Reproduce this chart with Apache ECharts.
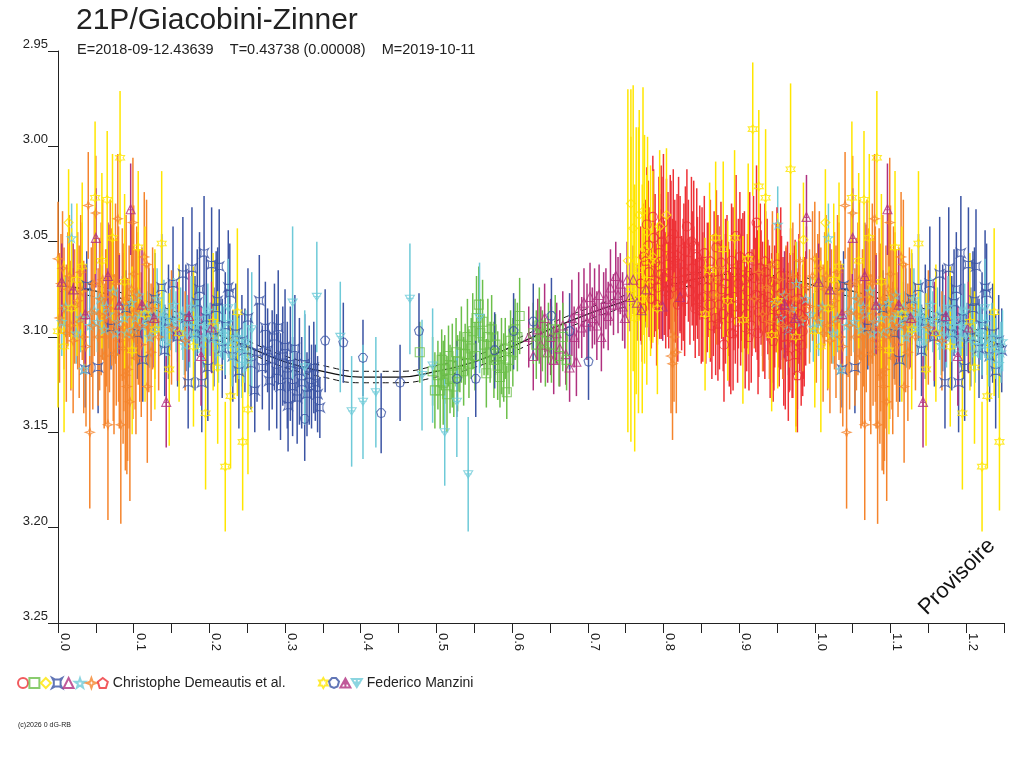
<!DOCTYPE html>
<html>
<head>
<meta charset="utf-8">
<title>21P/Giacobini-Zinner</title>
<script src="https://cdn.jsdelivr.net/npm/echarts@6/dist/echarts.min.js"></script>
<style>
  html, body { margin: 0; padding: 0; background: #fff; }
  #main { width: 1024px; height: 768px; }
</style>
</head>
<body>
<div id="main"></div>
<script>
// [phase, mag, error] -- phase 0..1, points below 0.25 are repeated at phase+1
var redCircles = [
  [0.770,3.072,0.030],[0.772,3.085,0.028],[0.774,3.058,0.028],[0.778,3.041,0.030],[0.780,3.052,0.034],
  [0.781,3.066,0.034],[0.783,3.072,0.030],[0.784,3.080,0.026],[0.786,3.037,0.032],[0.787,3.048,0.036],
  [0.789,3.061,0.036],[0.791,3.083,0.032],[0.792,3.074,0.030],[0.794,3.056,0.040],[0.795,3.063,0.038],
  [0.797,3.067,0.034],[0.798,3.050,0.034],[0.800,3.040,0.036],[0.801,3.069,0.030],[0.803,3.076,0.030],
  [0.804,3.053,0.036],[0.806,3.062,0.038],[0.807,3.078,0.028],[0.809,3.049,0.034],[0.810,3.058,0.040],
  [0.812,3.074,0.036],[0.813,3.046,0.034],[0.815,3.060,0.032],[0.816,3.071,0.032],[0.819,3.083,0.030],
  [0.820,3.050,0.034],[0.822,3.062,0.036],[0.824,3.077,0.030],[0.826,3.070,0.032],[0.827,3.066,0.036],
  [0.829,3.055,0.034],[0.831,3.042,0.030],[0.833,3.060,0.032],[0.835,3.076,0.028],[0.837,3.050,0.034],
  [0.838,3.064,0.030],[0.840,3.072,0.030],[0.842,3.085,0.026],[0.844,3.058,0.036],[0.845,3.069,0.032],
  [0.847,3.080,0.030],[0.848,3.061,0.030],[0.851,3.066,0.034],[0.852,3.079,0.034],[0.854,3.056,0.030],
  [0.856,3.088,0.026],[0.858,3.074,0.034],[0.860,3.070,0.030],[0.862,3.083,0.030],[0.864,3.094,0.028],
  [0.866,3.078,0.032],[0.867,3.066,0.032],[0.869,3.090,0.030],[0.870,3.053,0.030],[0.872,3.070,0.034],
  [0.874,3.083,0.034],[0.876,3.061,0.032],[0.877,3.075,0.026],[0.879,3.088,0.030],[0.880,3.104,0.030],
  [0.882,3.072,0.034],[0.884,3.068,0.032],[0.886,3.080,0.030],[0.887,3.090,0.036],[0.889,3.098,0.032],
  [0.890,3.060,0.030],[0.892,3.066,0.034],[0.893,3.079,0.028],[0.895,3.084,0.030],[0.896,3.047,0.032],
  [0.898,3.092,0.032],[0.899,3.072,0.034],[0.901,3.058,0.034],[0.902,3.085,0.030],[0.904,3.078,0.030],
  [0.905,3.063,0.028],[0.907,3.070,0.036],[0.908,3.095,0.032],[0.910,3.088,0.030],[0.911,3.076,0.030],
  [0.913,3.068,0.032],[0.914,3.058,0.034],[0.916,3.094,0.030],[0.917,3.082,0.028],[0.919,3.060,0.034],
  [0.920,3.069,0.030],[0.922,3.078,0.030],[0.923,3.040,0.030],[0.925,3.098,0.032],[0.926,3.087,0.034],
  [0.928,3.064,0.034],[0.929,3.074,0.030],[0.931,3.080,0.030],[0.932,3.090,0.028],[0.934,3.086,0.036],
  [0.935,3.066,0.032],[0.937,3.070,0.032],[0.938,3.079,0.030],[0.940,3.082,0.030],[0.941,3.096,0.036],
  [0.943,3.090,0.034],[0.944,3.071,0.030],[0.946,3.098,0.030],[0.947,3.084,0.032],[0.949,3.074,0.034],
  [0.950,3.062,0.030],[0.952,3.086,0.030],[0.953,3.092,0.034],[0.955,3.068,0.036],[0.956,3.077,0.030],
  [0.958,3.090,0.032],[0.959,3.100,0.036],[0.961,3.104,0.034],[0.962,3.083,0.030],[0.964,3.080,0.030],
  [0.965,3.110,0.034],[0.967,3.092,0.036],[0.968,3.073,0.030],[0.970,3.100,0.032],[0.971,3.094,0.038],
  [0.973,3.086,0.034],[0.974,3.081,0.032],[0.976,3.094,0.030],[0.977,3.102,0.036],[0.979,3.080,0.034],
  [0.980,3.088,0.030],[0.982,3.104,0.032],[0.984,3.097,0.034],[0.986,3.092,0.034],[0.988,3.085,0.030]
];
var greenSquares = [
  [0.478,3.108,0.016],[0.495,3.118,0.018],[0.498,3.128,0.020],[0.502,3.120,0.018],[0.505,3.128,0.020],
  [0.507,3.112,0.016],[0.509,3.124,0.022],[0.511,3.117,0.018],[0.514,3.130,0.020],[0.516,3.110,0.016],
  [0.518,3.122,0.018],[0.521,3.115,0.022],[0.523,3.126,0.016],[0.526,3.108,0.018],[0.528,3.119,0.020],
  [0.531,3.113,0.016],[0.533,3.104,0.020],[0.536,3.118,0.018],[0.538,3.109,0.016],[0.541,3.100,0.020],
  [0.543,3.114,0.018],[0.546,3.106,0.016],[0.548,3.097,0.020],[0.551,3.110,0.018],[0.553,3.090,0.022],
  [0.556,3.083,0.020],[0.558,3.098,0.018],[0.561,3.092,0.022],[0.563,3.104,0.016],[0.566,3.119,0.018],
  [0.568,3.100,0.020],[0.571,3.108,0.016],[0.573,3.096,0.018],[0.576,3.112,0.020],[0.578,3.104,0.016],
  [0.581,3.115,0.018],[0.584,3.121,0.016],[0.586,3.110,0.020],[0.589,3.116,0.018],[0.591,3.106,0.016],
  [0.593,3.129,0.014],[0.596,3.112,0.018],[0.598,3.102,0.016],[0.601,3.108,0.018],[0.604,3.096,0.016],
  [0.607,3.100,0.018],[0.610,3.089,0.020],[0.628,3.098,0.016],[0.632,3.104,0.018],[0.636,3.094,0.020],
  [0.640,3.102,0.016],[0.644,3.108,0.018],[0.648,3.098,0.016],[0.652,3.104,0.020],[0.657,3.096,0.018],
  [0.662,3.110,0.016],[0.667,3.100,0.018],[0.672,3.112,0.016]
];
var yellowDiamonds = [
  [0.014,3.040,0.028],[0.753,3.060,0.090],[0.757,3.030,0.060],[0.760,3.043,0.075],[0.764,3.060,0.070],
  [0.768,3.036,0.055],[0.773,3.034,0.065],[0.775,3.054,0.060],[0.779,3.045,0.050],[0.786,3.058,0.045],
  [0.795,3.042,0.040],[0.804,3.036,0.035],[0.985,3.049,0.030]
];
var blueCrosses = [
  [0.036,3.117,0.020],[0.038,3.073,0.018],[0.053,3.116,0.024],[0.070,3.095,0.022],[0.090,3.085,0.020],
  [0.105,3.098,0.024],[0.112,3.112,0.022],[0.120,3.090,0.026],[0.128,3.080,0.024],[0.137,3.074,0.028],
  [0.141,3.107,0.024],[0.146,3.092,0.030],[0.152,3.072,0.030],[0.158,3.100,0.026],[0.165,3.067,0.030],
  [0.169,3.090,0.028],[0.172,3.124,0.024],[0.177,3.064,0.032],[0.181,3.098,0.030],[0.184,3.082,0.028],
  [0.187,3.075,0.030],[0.190,3.124,0.026],[0.193,3.056,0.030],[0.196,3.090,0.032],[0.198,3.116,0.028],
  [0.203,3.062,0.030],[0.206,3.100,0.026],[0.209,3.085,0.030],[0.211,3.081,0.028],[0.213,3.063,0.030],
  [0.217,3.106,0.026],[0.221,3.094,0.028],[0.225,3.074,0.030],[0.227,3.077,0.026],[0.231,3.110,0.024],
  [0.235,3.098,0.026],[0.239,3.118,0.030],[0.243,3.102,0.024],[0.247,3.107,0.022],[0.251,3.090,0.026],
  [0.255,3.114,0.024],[0.260,3.128,0.022],[0.263,3.108,0.026],[0.266,3.081,0.024],[0.270,3.116,0.022],
  [0.274,3.095,0.024],[0.277,3.107,0.022],[0.279,3.123,0.026],[0.283,3.112,0.026],[0.286,3.100,0.028],
  [0.289,3.118,0.030],[0.291,3.095,0.030],[0.294,3.126,0.028],[0.297,3.110,0.026],[0.300,3.105,0.030],
  [0.303,3.120,0.028],[0.304,3.136,0.024],[0.307,3.114,0.030],[0.310,3.126,0.026],[0.313,3.106,0.028],
  [0.316,3.132,0.024],[0.319,3.118,0.028],[0.322,3.124,0.024],[0.326,3.114,0.026],[0.329,3.130,0.022],
  [0.332,3.120,0.026],[0.335,3.126,0.022],[0.338,3.116,0.024],[0.340,3.124,0.020],[0.343,3.130,0.020],
  [0.346,3.137,0.016]
];
var purpleTriangles = [
  [0.622,3.100,0.016],[0.628,3.110,0.018],[0.634,3.096,0.016],[0.638,3.104,0.020],[0.643,3.090,0.018],
  [0.647,3.108,0.016],[0.651,3.100,0.020],[0.655,3.112,0.018],[0.659,3.098,0.016],[0.663,3.106,0.020],
  [0.667,3.094,0.018],[0.671,3.109,0.016],[0.676,3.116,0.018],[0.679,3.090,0.020],[0.682,3.100,0.016],
  [0.685,3.113,0.018],[0.688,3.086,0.020],[0.692,3.095,0.016],[0.695,3.082,0.018],[0.699,3.092,0.020],
  [0.703,3.079,0.018],[0.706,3.090,0.016],[0.709,3.084,0.020],[0.712,3.094,0.018],[0.715,3.078,0.016],
  [0.718,3.100,0.018],[0.721,3.086,0.020],[0.724,3.080,0.016],[0.727,3.089,0.018],[0.730,3.074,0.020],
  [0.734,3.083,0.016],[0.737,3.068,0.018],[0.740,3.078,0.020],[0.743,3.072,0.016],[0.746,3.084,0.018],
  [0.749,3.090,0.016],[0.752,3.070,0.020],[0.756,3.079,0.018],[0.760,3.070,0.018],[0.765,3.082,0.020],
  [0.771,3.086,0.018],[0.777,3.075,0.020],[0.799,3.084,0.018],[0.822,3.079,0.018]
];
var cyanStars = [
  [0.005,3.092,0.018],[0.010,3.084,0.016],[0.018,3.048,0.018],[0.024,3.098,0.016],[0.030,3.090,0.018],
  [0.034,3.117,0.016],[0.042,3.094,0.020],[0.048,3.086,0.016],[0.052,3.092,0.016],[0.055,3.080,0.018],
  [0.061,3.096,0.016],[0.064,3.084,0.014],[0.067,3.088,0.018],[0.073,3.076,0.016],[0.076,3.098,0.016],
  [0.079,3.092,0.018],[0.085,3.084,0.016],[0.088,3.090,0.014],[0.091,3.098,0.018],[0.097,3.082,0.016],
  [0.100,3.096,0.016],[0.102,3.090,0.014],[0.107,3.078,0.018],[0.110,3.088,0.014],[0.112,3.094,0.016],
  [0.117,3.085,0.014],[0.119,3.092,0.016],[0.121,3.100,0.016],[0.126,3.088,0.014],[0.128,3.096,0.014],
  [0.131,3.080,0.016],[0.135,3.095,0.014],[0.138,3.090,0.016],[0.140,3.086,0.016],[0.144,3.102,0.014],
  [0.147,3.096,0.014],[0.149,3.091,0.016],[0.153,3.083,0.014],[0.156,3.092,0.016],[0.158,3.097,0.016],
  [0.162,3.088,0.014],[0.165,3.098,0.014],[0.167,3.104,0.016],[0.171,3.092,0.014],[0.174,3.100,0.016],
  [0.176,3.084,0.016],[0.180,3.099,0.014],[0.183,3.094,0.014],[0.185,3.090,0.016],[0.189,3.106,0.014],
  [0.192,3.100,0.016],[0.194,3.094,0.016],[0.198,3.086,0.014],[0.201,3.096,0.014],[0.203,3.101,0.016],
  [0.207,3.093,0.014],[0.210,3.102,0.016],[0.212,3.108,0.016],[0.216,3.097,0.014],[0.219,3.098,0.014],
  [0.221,3.104,0.016],[0.225,3.092,0.014],[0.228,3.104,0.016],[0.230,3.110,0.016],[0.234,3.100,0.018],
  [0.237,3.100,0.014],[0.239,3.106,0.016],[0.243,3.114,0.018],[0.246,3.108,0.016],[0.248,3.102,0.016],
  [0.252,3.112,0.018],
  [0.948,3.082,0.020],[0.951,3.041,0.020],[0.955,3.090,0.022],[0.960,3.078,0.020],[0.965,3.096,0.024],
  [0.970,3.085,0.020],[0.976,3.072,0.022],[0.982,3.092,0.020],[0.988,3.080,0.018],[0.994,3.088,0.020],
  [0.998,3.095,0.018]
];
var orangeStars = [
  [0.000,3.059,0.030],[0.002,3.090,0.034],[0.004,3.072,0.026],[0.006,3.064,0.030],[0.008,3.085,0.032],
  [0.011,3.098,0.036],[0.013,3.075,0.030],[0.015,3.068,0.032],[0.017,3.094,0.034],[0.020,3.102,0.038],
  [0.022,3.084,0.030],[0.026,3.081,0.036],[0.028,3.092,0.040],[0.030,3.066,0.030],[0.032,3.076,0.036],
  [0.034,3.100,0.040],[0.037,3.105,0.042],[0.040,3.031,0.028],[0.042,3.150,0.040],[0.044,3.087,0.034],
  [0.046,3.094,0.044],[0.048,3.072,0.038],[0.050,3.035,0.030],[0.053,3.100,0.036],[0.055,3.088,0.040],
  [0.057,3.080,0.040],[0.059,3.070,0.042],[0.061,3.110,0.038],[0.063,3.100,0.046],[0.064,3.090,0.036],
  [0.066,3.146,0.050],[0.068,3.085,0.044],[0.069,3.068,0.040],[0.071,3.079,0.036],[0.073,3.096,0.048],
  [0.074,3.109,0.042],[0.076,3.072,0.042],[0.077,3.092,0.044],[0.079,3.038,0.034],[0.080,3.088,0.046],
  [0.081,3.102,0.046],[0.083,3.146,0.052],[0.085,3.083,0.040],[0.086,3.106,0.050],[0.087,3.095,0.044],
  [0.089,3.120,0.050],[0.090,3.080,0.044],[0.091,3.126,0.046],[0.092,3.117,0.048],[0.094,3.100,0.048],
  [0.095,3.134,0.052],[0.097,3.075,0.040],[0.098,3.088,0.046],[0.099,3.099,0.044],[0.099,3.040,0.034],
  [0.100,3.067,0.036],[0.102,3.096,0.042],[0.103,3.111,0.040],[0.104,3.078,0.036],[0.106,3.085,0.040],
  [0.108,3.094,0.040],[0.110,3.104,0.038],[0.114,3.058,0.034],[0.117,3.062,0.034],[0.118,3.126,0.040],
  [0.120,3.095,0.034],[0.123,3.108,0.036],[0.125,3.085,0.032],[0.128,3.092,0.030],[0.133,3.100,0.028],
  [0.150,3.095,0.030],[0.168,3.102,0.026],
  [0.810,3.110,0.030],[0.812,3.114,0.040],[0.814,3.100,0.034],[0.817,3.108,0.032],[0.866,3.070,0.024],
  [0.870,3.078,0.026],[0.874,3.064,0.022],[0.920,3.080,0.026],[0.926,3.066,0.028],[0.931,3.088,0.030],
  [0.936,3.074,0.026],[0.940,3.092,0.030],[0.944,3.062,0.028],[0.949,3.082,0.026],[0.953,3.070,0.030],
  [0.958,3.094,0.028],[0.962,3.078,0.026],[0.967,3.086,0.030],[0.971,3.068,0.028],[0.975,3.080,0.026],
  [0.980,3.060,0.030],[0.984,3.090,0.028],[0.989,3.074,0.032],[0.993,3.084,0.030],[0.997,3.068,0.034]
];
var redPentagons = [
  [0.776,3.060,0.032],[0.788,3.070,0.030],[0.797,3.046,0.036],[0.808,3.066,0.030],[0.818,3.057,0.032],
  [0.828,3.080,0.030],[0.840,3.052,0.034],[0.850,3.086,0.028],[0.862,3.060,0.032],[0.872,3.093,0.030],
  [0.882,3.080,0.034],[0.892,3.098,0.030],[0.903,3.070,0.032],[0.913,3.100,0.028],[0.924,3.078,0.034],
  [0.934,3.060,0.030],[0.945,3.102,0.032],[0.955,3.087,0.030],[0.966,3.095,0.034],[0.975,3.109,0.038],
  [0.977,3.120,0.030],[0.985,3.090,0.032]
];
var manziniYellow = [
  [0.000,3.097,0.040],[0.008,3.105,0.045],[0.018,3.085,0.042],[0.025,3.070,0.040],[0.032,3.063,0.044],
  [0.049,3.027,0.040],[0.058,3.060,0.046],[0.065,3.028,0.036],[0.072,3.048,0.044],[0.082,3.006,0.035],
  [0.088,3.071,0.046],[0.098,3.107,0.044],[0.106,3.053,0.040],[0.115,3.088,0.046],[0.128,3.096,0.042],
  [0.137,3.051,0.038],[0.147,3.117,0.040],[0.160,3.098,0.036],[0.179,3.105,0.042],[0.195,3.140,0.040],
  [0.205,3.092,0.036],[0.211,3.116,0.040],[0.221,3.168,0.034],[0.228,3.131,0.038],[0.237,3.087,0.044],
  [0.244,3.155,0.036],[0.251,3.138,0.034],
  [0.757,3.075,0.080],[0.762,3.090,0.070],[0.767,3.065,0.075],[0.772,3.080,0.060],[0.778,3.070,0.055],
  [0.783,3.060,0.050],[0.792,3.085,0.045],[0.855,3.088,0.040],[0.861,3.065,0.046],[0.869,3.048,0.040],
  [0.879,3.054,0.046],[0.885,3.081,0.042],[0.894,3.048,0.046],[0.905,3.091,0.044],[0.912,3.059,0.050],
  [0.918,2.991,0.035],[0.926,3.021,0.040],[0.935,3.027,0.036],[0.943,3.099,0.040],[0.951,3.081,0.046],
  [0.968,3.012,0.045],[0.975,3.100,0.050]
];
var manziniBlue = [
  [0.326,3.143,0.022],[0.353,3.102,0.027],[0.377,3.103,0.021],[0.403,3.111,0.020],[0.427,3.140,0.021],
  [0.452,3.124,0.020],[0.477,3.097,0.020],[0.527,3.122,0.020],[0.552,3.122,0.020],[0.577,3.107,0.020],
  [0.602,3.097,0.020],[0.628,3.092,0.020],[0.652,3.089,0.020],[0.676,3.097,0.020],[0.701,3.113,0.020]
];
var manziniPurple = [
  [0.005,3.071,0.020],[0.020,3.075,0.024],[0.036,3.088,0.026],[0.050,3.048,0.026],[0.066,3.068,0.028],
  [0.081,3.083,0.026],[0.096,3.033,0.024],[0.111,3.083,0.030],[0.127,3.090,0.026],[0.143,3.134,0.024],
  [0.158,3.097,0.026],[0.173,3.089,0.024],[0.189,3.110,0.026],[0.203,3.095,0.024],[0.960,3.083,0.028],
  [0.974,3.090,0.030],[0.989,3.037,0.022]
];
var manziniCyan = [
  [0.225,3.085,0.026],[0.256,3.096,0.030],[0.310,3.082,0.040],[0.326,3.116,0.030],[0.342,3.079,0.029],
  [0.373,3.100,0.029],[0.388,3.139,0.029],[0.403,3.134,0.030],[0.420,3.129,0.029],[0.465,3.080,0.029],
  [0.481,3.120,0.029],[0.495,3.115,0.030],[0.511,3.150,0.028],[0.527,3.134,0.029],[0.542,3.172,0.030],
  [0.557,3.090,0.029]
];

// fitted light curve and its envelope
var modelPhase = [0,0.05,0.10,0.15,0.20,0.25,0.30,0.35,0.40,0.45,0.50,0.55,0.60,0.65,0.70,0.75,0.80,0.85,0.90,0.95,1.00,1.05,1.10,1.15,1.20,1.25];
var modelMag = [3.073,3.076,3.082,3.089,3.097,3.105,3.113,3.118,3.121,3.121,3.118,3.113,3.105,3.096,3.088,3.081,3.074,3.069,3.067,3.068,3.073,3.076,3.082,3.089,3.097,3.105];
var modelErr = 0.003;

var yTicks = [2.95, 3.00, 3.05, 3.10, 3.15, 3.20, 3.25];

var chart = echarts.init(document.getElementById('main'));
var FONT = '"Liberation Sans", Arial, sans-serif';

// phase 0..0.25 is shown again after 1.0
function fold(arr) {
  var out = arr.slice();
  arr.forEach(function (p) {
    if (p[0] <= 0.25) out.push([p[0] + 1, p[1], p[2]]);
  });
  return out;
}

var D = 'Christophe Demeautis et al.', M = 'Federico Manzini';
var groups = {
  d1: {name: 'D1', data: redCircles, color: '#ee3136', symbol: 'circle'},
  d2: {name: 'D2', data: greenSquares, color: '#6cbf4a', symbol: 'rect'},
  d3: {name: 'D3', data: yellowDiamonds, color: '#ffe600', symbol: 'diamond'},
  d4: {name: 'D4', data: blueCrosses, color: '#3b54a4', symbol: 'path://M0,0 L3,1.6 L7,1.6 L10,0 L8.4,3 L8.4,7 L10,10 L7,8.4 L3,8.4 L0,10 L1.6,7 L1.6,3 Z'},
  d5: {name: 'D5', data: purpleTriangles, color: '#b0307f', symbol: 'triangle'},
  d6: {name: 'D6', data: cyanStars, color: '#6ecad8', symbol: 'path://M5,0 L6.2,3.6 L10,3.6 L7,5.9 L8.1,9.5 L5,7.3 L1.9,9.5 L3,5.9 L0,3.6 L3.8,3.6 Z'},
  d7: {name: 'D7', data: orangeStars, color: '#f5842c', symbol: 'path://M5,0 L6.3,3.7 L10,5 L6.3,6.3 L5,10 L3.7,6.3 L0,5 L3.7,3.7 Z'},
  d8: {name: D, data: redPentagons, color: '#ee3136', symbol: 'path://M5,0 L10,3.8 L8.1,10 L1.9,10 L0,3.8 Z'},
  m1: {name: 'M1', data: manziniYellow, color: '#ffe600', symbol: 'path://M5,0 L6.4,2.5 L9.3,2.5 L7.9,5 L9.3,7.5 L6.4,7.5 L5,10 L3.6,7.5 L0.7,7.5 L2.1,5 L0.7,2.5 L3.6,2.5 Z'},
  m2: {name: 'M2', data: manziniBlue, color: '#3b54a4', symbol: 'path://M3,0 L7,0 L10,3.5 L8.5,8.5 L5,10 L1.5,8.5 L0,3.5 Z'},
  m3: {name: 'M3', data: manziniPurple, color: '#b0307f', symbol: 'path://M5,0 L10,9 L0,9 Z M5,0 L5,9 M1.5,5 L8.5,5'},
  m4: {name: M, data: manziniCyan, color: '#6ecad8', symbol: 'path://M0,1 L10,1 L5,9 Z M5,0 L5,10 M1,4.5 L9,4.5'}
};
var legendD = ['d1','d2','d3','d4','d5','d6','d7','d8'].map(function (k) { return groups[k].name; });
var legendM = ['m1','m2','m3','m4'].map(function (k) { return groups[k].name; });
// painting order, bottom to top
var drawOrder = ['d5','d2','d4','d6','d1','d8','d7','d3','m2','m4','m3','m1'];

var series = [];
series.push({
  type: 'line', data: modelPhase.map(function (p, i) { return [p, modelMag[i]]; }),
  smooth: true, showSymbol: false, silent: true, z: 1,
  lineStyle: {color: '#111', width: 1.3}
});
series.push({
  type: 'line', data: modelPhase.map(function (p, i) { return [p, modelMag[i] - modelErr]; }),
  smooth: true, showSymbol: false, silent: true, z: 1,
  lineStyle: {color: '#111', width: 1, type: [6, 4]}
});
series.push({
  type: 'line', data: modelPhase.map(function (p, i) { return [p, modelMag[i] + modelErr]; }),
  smooth: true, showSymbol: false, silent: true, z: 1,
  lineStyle: {color: '#111', width: 1, type: [6, 4]}
});

drawOrder.forEach(function (k) {
  var g = groups[k];
  var pts = fold(g.data);
  series.push({
    type: 'custom', silent: true, z: 2,
    data: pts,
    encode: {x: 0, y: 1},
    renderItem: function (params, api) {
      var x = api.value(0), y = api.value(1), e = api.value(2);
      var a = api.coord([x, y - e]);
      var b = api.coord([x, y + e]);
      return {
        type: 'line',
        shape: {x1: a[0], y1: a[1], x2: b[0], y2: b[1]},
        style: {stroke: g.color, lineWidth: 1.5}
      };
    }
  });
  series.push({
    name: g.name, type: 'scatter', z: 2,
    data: pts.map(function (p) { return [p[0], p[1]]; }),
    symbol: g.symbol, symbolSize: 9,
    itemStyle: {color: 'rgba(0,0,0,0)', borderColor: g.color, borderWidth: 1.1}
  });
});

function legendText(name) {
  return (name === D || name === M) ? name : '';
}

chart.setOption({
  animation: false,
  backgroundColor: '#fff',
  grid: {left: 58, right: 20, top: 51, bottom: 145},
  xAxis: {
    type: 'value', min: 0, max: 1.25, interval: 0.05,
    axisLine: {lineStyle: {color: '#222', width: 1}},
    axisTick: {length: 10, lineStyle: {color: '#222'}},
    splitLine: {show: false},
    axisLabel: {
      rotate: -90, margin: 10, fontSize: 13, color: '#222', fontFamily: FONT,
      verticalAlign: 'bottom',
      formatter: function (v) {
        return Math.round(v * 20) % 2 === 0 ? v.toFixed(1) : '';
      }
    }
  },
  yAxis: {
    type: 'value', inverse: true, min: yTicks[0], max: yTicks[yTicks.length - 1], interval: 0.05,
    axisLine: {show: true, lineStyle: {color: '#222', width: 1}},
    axisTick: {show: true, length: 10, lineStyle: {color: '#222'}},
    splitLine: {show: false},
    axisLabel: {
      margin: 10, fontSize: 13, color: '#222', fontFamily: FONT, verticalAlign: 'bottom',
      formatter: function (v) { return v.toFixed(2); }
    }
  },
  legend: [
    {data: legendD, left: 17, top: 676, padding: 0, itemWidth: 10, itemHeight: 10, itemGap: -0.6,
     selectedMode: false, formatter: legendText,
     textStyle: {fontSize: 14, color: '#222', fontFamily: FONT}},
    {data: legendM, left: 318, top: 676, padding: 0, itemWidth: 10, itemHeight: 10, itemGap: -0.6,
     selectedMode: false, formatter: legendText,
     textStyle: {fontSize: 14, color: '#222', fontFamily: FONT}}
  ],
  graphic: [
    {type: 'text', left: 76, top: 6,
     style: {text: '21P/Giacobini-Zinner', font: '30px ' + FONT, fill: '#222'}},
    {type: 'text', left: 77, top: 42,
     style: {text: 'E=2018-09-12.43639    T=0.43738 (0.00008)    M=2019-10-11', font: '14.5px ' + FONT, fill: '#222'}},
    {type: 'text', left: 18, top: 722,
     style: {text: '(c)2026 0 dG-RB', font: '7px ' + FONT, fill: '#222'}},
    {type: 'text', x: 957, y: 577, rotation: Math.PI / 4, z: 10,
     style: {text: 'Provisoire', font: '22px ' + FONT, fill: '#111', align: 'center', verticalAlign: 'middle'}}
  ],
  series: series
});
</script>
</body>
</html>
